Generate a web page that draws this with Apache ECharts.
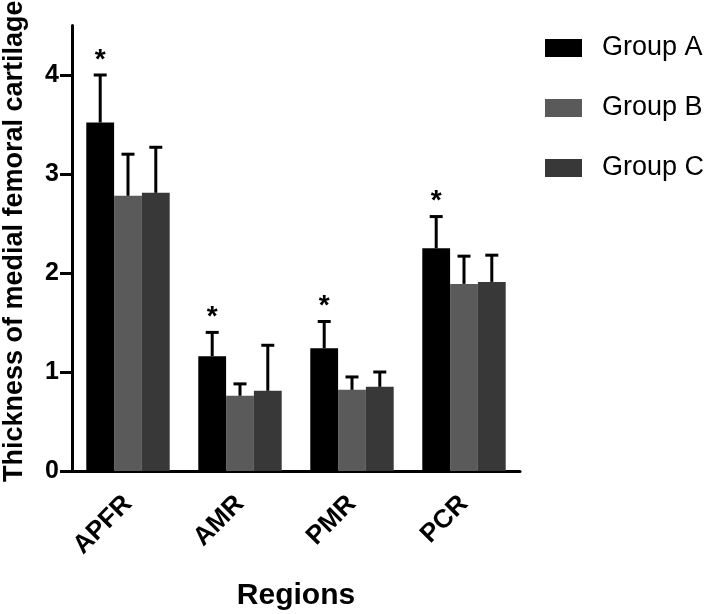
<!DOCTYPE html>
<html>
<head>
<meta charset="utf-8">
<script src="https://cdn.jsdelivr.net/npm/echarts@6/dist/echarts.min.js"></script>
<style>
html,body{margin:0;padding:0;background:#fff;}
#c{width:707px;height:614px;}
</style>
</head>
<body>
<div id="c"></div>
<script>
var categories = ['APFR', 'AMR', 'PMR', 'PCR'];
var groupNames = ['Group A', 'Group B', 'Group C'];
var meanA = [3.52, 1.16, 1.24, 2.25];
var meanB = [2.78, 0.76, 0.82, 1.89];
var meanC = [2.81, 0.81, 0.85, 1.91];
var sdA = [0.48, 0.24, 0.27, 0.32];
var sdB = [0.42, 0.12, 0.13, 0.28];
var sdC = [0.46, 0.46, 0.15, 0.27];
var sigA = ['*', '*', '*', '*'];
var yTicks = [0, 1, 2, 3, 4];

var FONT = 'Liberation Sans, Arial, Helvetica, sans-serif';
var colors = ['#000000', '#5a5a5a', '#383838'];
var BAR_W = 27.8;

var means = [meanA, meanB, meanC];
var sds = [sdA, sdB, sdC];

function errSeries(gi) {
  var data = categories.map(function (c, i) {
    return [i, means[gi][i], means[gi][i] + sds[gi][i], gi === 0 ? sigA[i] : ''];
  });
  return {
    type: 'custom',
    name: groupNames[gi] + ' err',
    z: 5,
    silent: true,
    data: data,
    renderItem: function (params, api) {
      var x = api.value(0);
      var base = api.coord([x, api.value(1)]);
      var top = api.coord([x, api.value(2)]);
      var cx = base[0] + (gi - 1) * BAR_W;
      var star = api.value(3);
      var children = [
        { type: 'line', shape: { x1: cx, y1: base[1], x2: cx, y2: top[1] },
          style: { stroke: '#000', lineWidth: 3 } },
        { type: 'line', shape: { x1: cx - 6.5, y1: top[1], x2: cx + 6.5, y2: top[1] },
          style: { stroke: '#000', lineWidth: 3 } }
      ];
      if (star) {
        children.push({ type: 'text', x: cx, y: top[1] - 15,
          style: { text: star, fill: '#000', font: 'bold 28px ' + FONT,
                   align: 'center', verticalAlign: 'middle' } });
      }
      return { type: 'group', children: children };
    }
  };
}

var chart = echarts.init(document.getElementById('c'), null, { renderer: 'canvas' });
var barSeries = groupNames.map(function (n, gi) {
  return {
    type: 'bar',
    name: n,
    data: means[gi],
    barWidth: BAR_W,
    barGap: '0%',
    itemStyle: { color: colors[gi] },
    z: 2
  };
});

chart.setOption({
  animation: false,
  backgroundColor: '#fff',
  grid: { left: 72, right: 187, top: 25.5, bottom: 143, containLabel: false, outerBoundsMode: 'none' },
  legend: {
    data: groupNames,
    orient: 'vertical',
    left: 540,
    top: 28,
    padding: 5,
    icon: 'rect',
    itemWidth: 37,
    itemHeight: 18,
    itemGap: 30,
    selectedMode: false,
    textStyle: { fontFamily: FONT, fontSize: 27, color: '#000', lineHeight: 30, padding: [0, 0, 0, 15] }
  },
  xAxis: {
    type: 'category',
    data: categories,
    name: 'Regions',
    nameLocation: 'middle',
    nameGap: 110,
    nameTextStyle: { fontFamily: FONT, fontSize: 30, fontWeight: 'bold', color: '#000' },
    axisLine: { lineStyle: { color: '#000', width: 3 } },
    axisTick: { alignWithLabel: true, length: 9, lineStyle: { color: '#000', width: 3 } },
    axisLabel: { rotate: 45, margin: 29, padding: [8, 0, 0, 0], fontFamily: FONT, fontSize: 26, fontWeight: 'bold', color: '#000' }
  },
  yAxis: {
    type: 'value',
    min: 0,
    max: 4.5,
    interval: 1,
    name: 'Thickness of medial femoral cartilage',
    nameLocation: 'middle',
    nameGap: 44,
    nameTextStyle: { fontFamily: FONT, fontSize: 27, fontWeight: 'bold', color: '#000', padding: [0, 0, 0, 14] },
    splitLine: { show: false },
    axisLine: { show: true, lineStyle: { color: '#000', width: 3 } },
    axisTick: { show: true, length: 12, customValues: yTicks, lineStyle: { color: '#000', width: 3 } },
    axisLabel: { margin: 13, customValues: yTicks, fontFamily: FONT, fontSize: 25, fontWeight: 'bold', color: '#000' }
  },
  series: barSeries.concat([errSeries(0), errSeries(1), errSeries(2)])
});
</script>
</body>
</html>
